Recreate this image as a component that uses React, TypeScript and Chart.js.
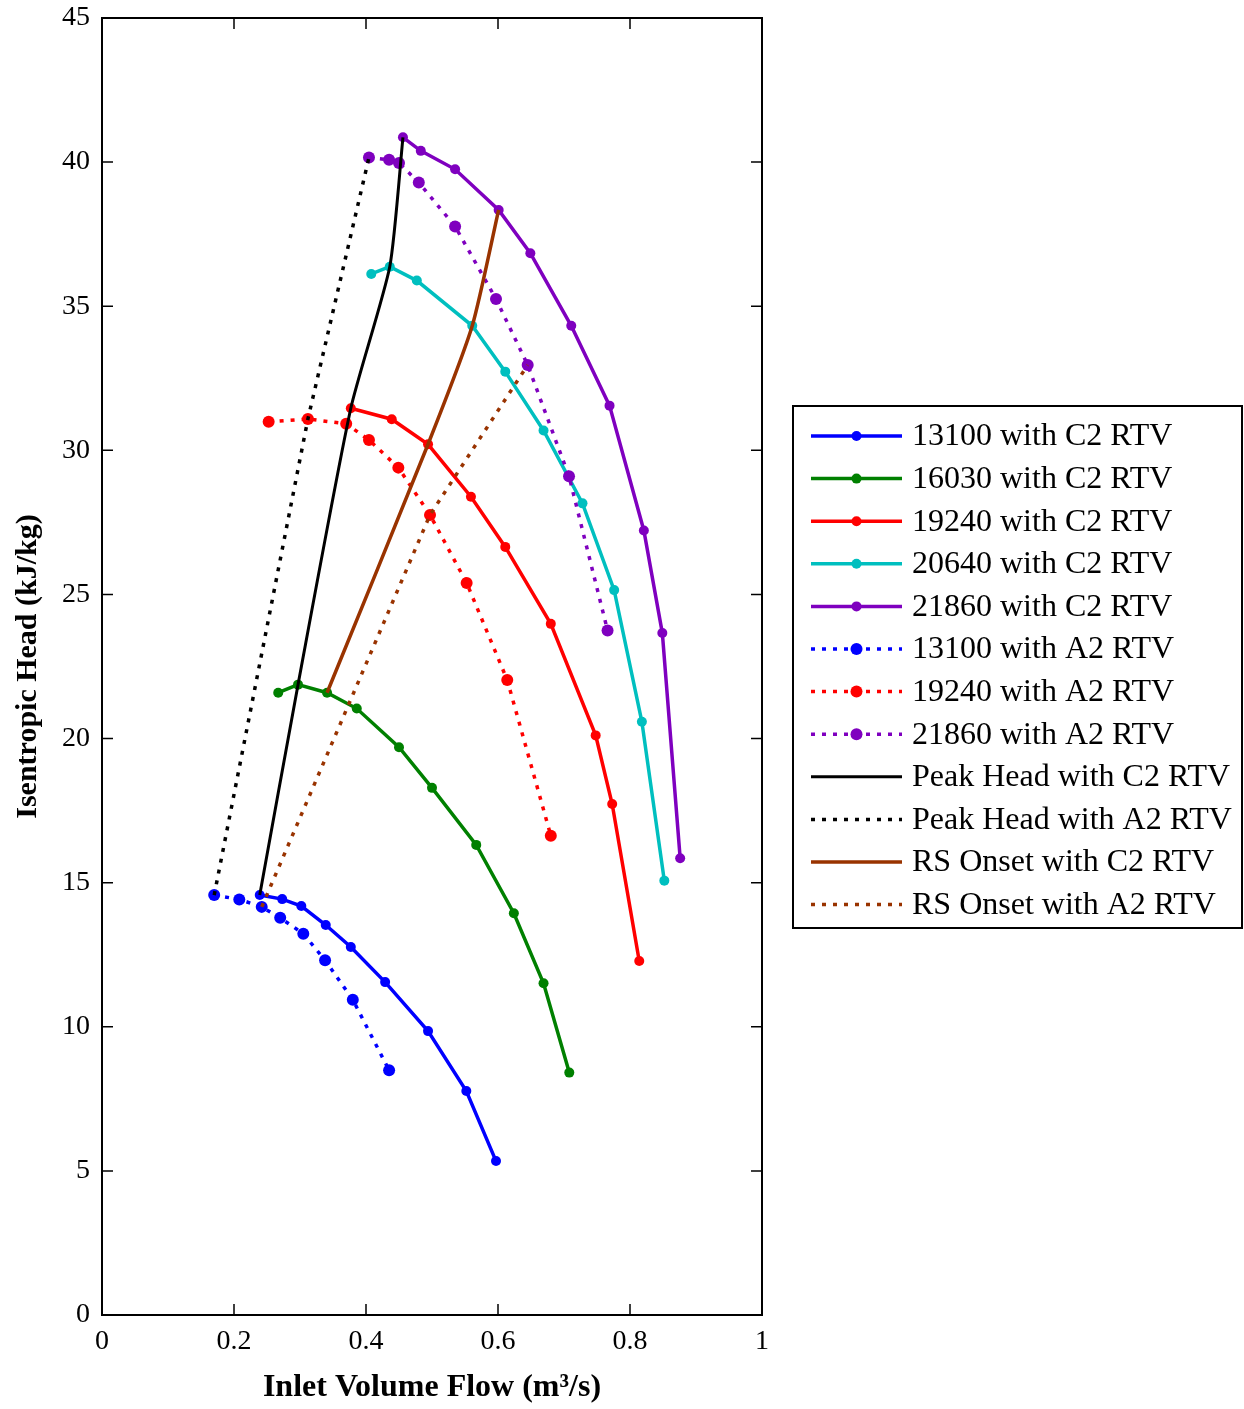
import React, { useEffect, useRef } from "react";
import { Chart, registerables } from "chart.js";

Chart.register(...registerables);

// ---- Data ----
const flowC2_13100 = [0.239, 0.273, 0.302, 0.339, 0.377, 0.429, 0.494, 0.552, 0.597];
const headC2_13100 = [14.57, 14.43, 14.19, 13.53, 12.77, 11.55, 9.85, 7.77, 5.34];

const flowC2_16030 = [0.267, 0.297, 0.341, 0.386, 0.45, 0.5, 0.567, 0.624, 0.669, 0.708];
const headC2_16030 = [21.59, 21.87, 21.59, 21.04, 19.7, 18.29, 16.31, 13.94, 11.51, 8.41];

const flowC2_19240 = [0.377, 0.439, 0.494, 0.559, 0.611, 0.68, 0.748, 0.773, 0.814];
const headC2_19240 = [31.46, 31.08, 30.21, 28.39, 26.65, 23.98, 20.11, 17.73, 12.28];

const flowC2_20640 = [0.408, 0.436, 0.477, 0.561, 0.611, 0.669, 0.728, 0.776, 0.818, 0.852];
const headC2_20640 = [36.12, 36.37, 35.89, 34.32, 32.73, 30.69, 28.16, 25.15, 20.58, 15.07];

const flowC2_21860 = [0.456, 0.483, 0.535, 0.601, 0.649, 0.711, 0.769, 0.821, 0.849, 0.876];
const headC2_21860 = [40.86, 40.39, 39.75, 38.34, 36.84, 34.32, 31.55, 27.22, 23.66, 15.85];

const flowA2_13100 = [0.17, 0.208, 0.242, 0.27, 0.305, 0.338, 0.38, 0.435];
const headA2_13100 = [14.57, 14.42, 14.16, 13.78, 13.23, 12.31, 10.94, 8.49];

const flowA2_19240 = [0.2525, 0.312, 0.37, 0.4045, 0.449, 0.497, 0.5525, 0.614, 0.68];
const headA2_19240 = [30.99, 31.09, 30.92, 30.36, 29.4, 27.76, 25.4, 22.03, 16.63];

const flowA2_21860 = [0.4045, 0.435, 0.45, 0.48, 0.535, 0.597, 0.645, 0.7076, 0.766];
const headA2_21860 = [40.16, 40.08, 39.97, 39.29, 37.77, 35.25, 32.96, 29.1, 23.75];

const flowPeakC2 = [0.239, 0.297, 0.377, 0.436, 0.456];
const headPeakC2 = [14.57, 21.87, 31.46, 36.37, 40.86];

const flowPeakA2 = [0.17, 0.312, 0.4045];
const headPeakA2 = [14.57, 31.09, 40.16];

const flowRsC2 = [0.341, 0.494, 0.561, 0.601];
const headRsC2 = [21.59, 30.21, 34.32, 38.34];

const flowRsA2 = [0.242, 0.497, 0.645];
const headRsA2 = [14.16, 27.76, 32.96];

const seriesLabels = [
  "13100 with C2 RTV",
  "16030 with C2 RTV",
  "19240 with C2 RTV",
  "20640 with C2 RTV",
  "21860 with C2 RTV",
  "13100 with A2 RTV",
  "19240 with A2 RTV",
  "21860 with A2 RTV",
  "Peak Head with C2 RTV",
  "Peak Head with A2 RTV",
  "RS Onset with C2 RTV",
  "RS Onset with A2 RTV",
];

const xTicks = [0, 0.2, 0.4, 0.6, 0.8, 1];
const yTicks = [0, 5, 10, 15, 20, 25, 30, 35, 40, 45];

const BLUE = "#0000FF";
const GREEN = "#008000";
const RED = "#FF0000";
const CYAN = "#00BFBF";
const PURPLE = "#7F00BF";
const BLACK = "#000000";
const BROWN = "#993300";

const FONT = "'Liberation Serif', 'Times New Roman', serif";
const DOT = [4, 7];

function pts(xs: number[], ys: number[]) {
  return xs.map((x, i) => ({ x, y: ys[i] }));
}

type Spec = { xs: number[]; ys: number[]; color: string; dotted: boolean; marker: number; width: number; tension: number };

const specs: Spec[] = [
  { xs: flowC2_13100, ys: headC2_13100, color: BLUE, dotted: false, marker: 5, width: 3.5, tension: 0 },
  { xs: flowC2_16030, ys: headC2_16030, color: GREEN, dotted: false, marker: 5, width: 3.5, tension: 0 },
  { xs: flowC2_19240, ys: headC2_19240, color: RED, dotted: false, marker: 5, width: 3.5, tension: 0 },
  { xs: flowC2_20640, ys: headC2_20640, color: CYAN, dotted: false, marker: 5, width: 3.5, tension: 0 },
  { xs: flowC2_21860, ys: headC2_21860, color: PURPLE, dotted: false, marker: 5, width: 3.5, tension: 0 },
  { xs: flowA2_13100, ys: headA2_13100, color: BLUE, dotted: true, marker: 6, width: 3.5, tension: 0 },
  { xs: flowA2_19240, ys: headA2_19240, color: RED, dotted: true, marker: 6, width: 3.5, tension: 0 },
  { xs: flowA2_21860, ys: headA2_21860, color: PURPLE, dotted: true, marker: 6, width: 3.5, tension: 0 },
  { xs: flowPeakC2, ys: headPeakC2, color: BLACK, dotted: false, marker: 0, width: 3, tension: 0.2 },
  { xs: flowPeakA2, ys: headPeakA2, color: BLACK, dotted: true, marker: 0, width: 3.5, tension: 0 },
  { xs: flowRsC2, ys: headRsC2, color: BROWN, dotted: false, marker: 0, width: 3.5, tension: 0.2 },
  { xs: flowRsA2, ys: headRsA2, color: BROWN, dotted: true, marker: 0, width: 3.5, tension: 0 },
];

const frameAndLegend = {
  id: "frameAndLegend",
  afterDraw(chart: any) {
    const ctx = chart.ctx as CanvasRenderingContext2D;
    const { left, right, top, bottom } = chart.chartArea;
    const xs = chart.scales.x;
    const ys = chart.scales.y;
    ctx.save();
    // axes box
    ctx.strokeStyle = "#000";
    ctx.lineWidth = 2;
    ctx.setLineDash([]);
    ctx.strokeRect(left, top, right - left, bottom - top);
    // inward ticks
    const tl = 11;
    ctx.lineWidth = 1.5;
    ctx.beginPath();
    xTicks.forEach((v) => {
      const px = xs.getPixelForValue(v);
      ctx.moveTo(px, bottom);
      ctx.lineTo(px, bottom - tl);
      ctx.moveTo(px, top);
      ctx.lineTo(px, top + tl);
    });
    yTicks.forEach((v) => {
      const py = ys.getPixelForValue(v);
      ctx.moveTo(left, py);
      ctx.lineTo(left + tl, py);
      ctx.moveTo(right, py);
      ctx.lineTo(right - tl, py);
    });
    ctx.stroke();

    // legend
    const lx = right + 31;
    const ly = top + 388;
    const lw = 449;
    const lh = 522;
    ctx.fillStyle = "#fff";
    ctx.fillRect(lx, ly, lw, lh);
    ctx.lineWidth = 2;
    ctx.strokeStyle = "#000";
    ctx.strokeRect(lx, ly, lw, lh);
    const rowH = 42.6;
    ctx.font = `32px ${FONT}`;
    ctx.textBaseline = "middle";
    ctx.textAlign = "left";
    chart.data.datasets.forEach((ds: any, i: number) => {
      const cy = ly + 30 + i * rowH;
      const x0 = lx + 18;
      const x1 = lx + 109;
      ctx.strokeStyle = ds.borderColor;
      ctx.lineWidth = ds.borderWidth;
      ctx.setLineDash(ds.borderDash || []);
      ctx.lineCap = "butt";
      ctx.beginPath();
      ctx.moveTo(x0, cy);
      ctx.lineTo(x1, cy);
      ctx.stroke();
      ctx.setLineDash([]);
      if (ds.pointRadius > 0) {
        ctx.fillStyle = ds.borderColor;
        ctx.beginPath();
        ctx.arc((x0 + x1) / 2, cy, ds.pointRadius, 0, Math.PI * 2);
        ctx.fill();
      }
      ctx.fillStyle = "#000";
      ctx.fillText(ds.label, lx + 119, cy + 1);
    });
    ctx.restore();
  },
};

export default function App() {
  const ref = useRef<HTMLCanvasElement | null>(null);
  useEffect(() => {
    if (!ref.current) return;
    const datasets = specs.map((s, i) => ({
      label: seriesLabels[i],
      data: pts(s.xs, s.ys),
      borderColor: s.color,
      backgroundColor: s.color,
      borderWidth: s.width,
      borderDash: s.dotted ? DOT : [],
      pointRadius: s.marker,
      pointHoverRadius: s.marker,
      pointBackgroundColor: s.color,
      pointBorderWidth: 0,
      tension: s.tension,
      fill: false,
      showLine: true,
      order: specs.length - i,
    }));
    const chart = new Chart(ref.current, {
      type: "scatter",
      data: { datasets },
      plugins: [frameAndLegend],
      options: {
        responsive: false,
        animation: false,
        events: [],
        layout: { padding: { top: 18, right: 482, left: 0, bottom: 0 } },
        plugins: { legend: { display: false }, tooltip: { enabled: false } },
        scales: {
          x: {
            type: "linear",
            min: 0,
            max: 1,
            afterBuildTicks: (scale: any) => {
              scale.ticks = xTicks.map((v) => ({ value: v }));
            },
            afterFit: (scale: any) => {
              scale.height = 94;
              scale.paddingLeft = 0;
              scale.paddingRight = 0;
            },
            grid: { display: false, drawTicks: false },
            border: { display: false },
            ticks: {
              color: "#000",
              padding: 10,
              maxRotation: 0,
              autoSkip: false,
              font: { family: FONT, size: 28 },
              callback: (v: any) => String(Number(Number(v).toFixed(1))),
            },
            title: {
              display: true,
              text: "Inlet Volume Flow (m³/s)",
              color: "#000",
              font: { family: FONT, size: 32, weight: "bold" },
              padding: { top: 0, bottom: 2 },
            },
          },
          y: {
            type: "linear",
            min: 0,
            max: 45,
            afterBuildTicks: (scale: any) => {
              scale.ticks = yTicks.map((v) => ({ value: v }));
            },
            afterFit: (scale: any) => {
              scale.width = 102;
              scale.paddingTop = 0;
              scale.paddingBottom = 0;
            },
            grid: { display: false, drawTicks: false },
            border: { display: false },
            ticks: {
              color: "#000",
              padding: 12,
              autoSkip: false,
              font: { family: FONT, size: 28 },
            },
            title: {
              display: true,
              text: "Isentropic Head (kJ/kg)",
              color: "#000",
              font: { family: FONT, size: 30, weight: "bold" },
              padding: { top: 10, bottom: 0 },
            },
          },
        },
      } as any,
    });
    return () => chart.destroy();
  }, []);
  return (
    <div style={{ position: "absolute", left: 0, top: 0, width: 1244, height: 1409, background: "#fff" }}>
      <canvas ref={ref} width={1244} height={1409} style={{ width: 1244, height: 1409, display: "block" }} />
    </div>
  );
}
